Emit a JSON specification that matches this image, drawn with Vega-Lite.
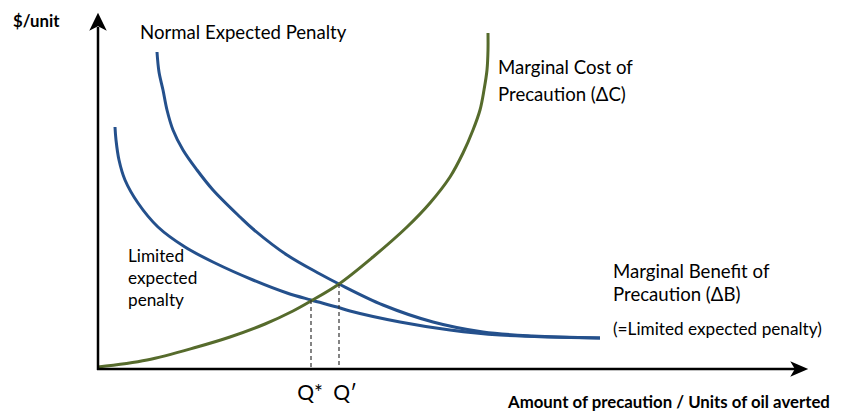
{
  "$schema": "https://vega.github.io/schema/vega-lite/v6.json",
  "width": 845,
  "height": 412,
  "autosize": {"type": "fit", "contains": "padding"},
  "padding": 0,
  "background": "white",
  "config": {"view": {"stroke": null}, "font": "Lato"},
  "datasets": {
    "axes": [
      {"axis": "y", "x": 0, "y": -1, "x2": 0, "y2": 342},
      {"axis": "x", "x": -1, "y": 0, "x2": 700, "y2": 0}
    ],
    "arrows": [
      {"dir": "up", "x": 0, "y": 347},
      {"dir": "right", "x": 701, "y": 0}
    ],
    "q": [
      {"label": "Q*", "x": 213, "y": 69},
      {"label": "Q′", "x": 241, "y": 85}
    ],
    "curves": [
      {"series": "Normal", "i": 0, "x": 59, "y": 317},
      {"series": "Normal", "i": 1, "x": 61, "y": 297},
      {"series": "Normal", "i": 2, "x": 65, "y": 279},
      {"series": "Normal", "i": 3, "x": 69, "y": 259},
      {"series": "Normal", "i": 4, "x": 75, "y": 239},
      {"series": "Normal", "i": 5, "x": 85, "y": 219},
      {"series": "Normal", "i": 6, "x": 99, "y": 199},
      {"series": "Normal", "i": 7, "x": 115, "y": 179},
      {"series": "Normal", "i": 8, "x": 142, "y": 152},
      {"series": "Normal", "i": 9, "x": 155, "y": 140},
      {"series": "Normal", "i": 10, "x": 189, "y": 114},
      {"series": "Normal", "i": 11, "x": 222, "y": 95},
      {"series": "Normal", "i": 12, "x": 241, "y": 85},
      {"series": "Normal", "i": 13, "x": 285, "y": 64},
      {"series": "Normal", "i": 14, "x": 335, "y": 47},
      {"series": "Normal", "i": 15, "x": 385, "y": 37},
      {"series": "Normal", "i": 16, "x": 435, "y": 33},
      {"series": "Normal", "i": 17, "x": 502, "y": 31},
      {"series": "Limited", "i": 0, "x": 17, "y": 242},
      {"series": "Limited", "i": 1, "x": 18, "y": 229},
      {"series": "Limited", "i": 2, "x": 21, "y": 209},
      {"series": "Limited", "i": 3, "x": 27, "y": 189},
      {"series": "Limited", "i": 4, "x": 40, "y": 166},
      {"series": "Limited", "i": 5, "x": 60, "y": 142},
      {"series": "Limited", "i": 6, "x": 87, "y": 122},
      {"series": "Limited", "i": 7, "x": 117, "y": 106},
      {"series": "Limited", "i": 8, "x": 155, "y": 89},
      {"series": "Limited", "i": 9, "x": 189, "y": 76},
      {"series": "Limited", "i": 10, "x": 213, "y": 69},
      {"series": "Limited", "i": 11, "x": 239, "y": 62},
      {"series": "Limited", "i": 12, "x": 252, "y": 58},
      {"series": "Limited", "i": 13, "x": 302, "y": 47},
      {"series": "Limited", "i": 14, "x": 352, "y": 39},
      {"series": "Limited", "i": 15, "x": 402, "y": 34},
      {"series": "Limited", "i": 16, "x": 502, "y": 31},
      {"series": "MC", "i": 0, "x": 0, "y": 2},
      {"series": "MC", "i": 1, "x": 49, "y": 9},
      {"series": "MC", "i": 2, "x": 99, "y": 22},
      {"series": "MC", "i": 3, "x": 132, "y": 32},
      {"series": "MC", "i": 4, "x": 167, "y": 45},
      {"series": "MC", "i": 5, "x": 195, "y": 58},
      {"series": "MC", "i": 6, "x": 213, "y": 68},
      {"series": "MC", "i": 7, "x": 241, "y": 85},
      {"series": "MC", "i": 8, "x": 275, "y": 112},
      {"series": "MC", "i": 9, "x": 309, "y": 142},
      {"series": "MC", "i": 10, "x": 332, "y": 166},
      {"series": "MC", "i": 11, "x": 352, "y": 192},
      {"series": "MC", "i": 12, "x": 365, "y": 216},
      {"series": "MC", "i": 13, "x": 375, "y": 239},
      {"series": "MC", "i": 14, "x": 382, "y": 259},
      {"series": "MC", "i": 15, "x": 386, "y": 279},
      {"series": "MC", "i": 16, "x": 389, "y": 299},
      {"series": "MC", "i": 17, "x": 390, "y": 319},
      {"series": "MC", "i": 18, "x": 390, "y": 336}
    ],
    "labels": [
      {"style": "bold", "text": "$/unit", "x": -85, "y": 347},
      {"style": "bold", "text": "Amount of precaution / Units of oil averted", "x": 410, "y": -34},
      {"style": "normal", "text": "Normal Expected Penalty", "x": 42, "y": 336},
      {"style": "normal", "text": "Marginal Cost of", "x": 400, "y": 301},
      {"style": "normal", "text": "Precaution (ΔC)", "x": 400, "y": 274},
      {"style": "normal", "text": "Marginal Benefit of", "x": 515, "y": 97},
      {"style": "normal", "text": "Precaution (ΔB)", "x": 515, "y": 74},
      {"style": "small", "text": "(=Limited expected penalty)", "x": 515, "y": 39},
      {"style": "small", "text": "Limited", "x": 30, "y": 112},
      {"style": "small", "text": "expected", "x": 30, "y": 90},
      {"style": "small", "text": "penalty", "x": 30, "y": 68},
      {"style": "q", "text": "Q*", "x": 212, "y": -31},
      {"style": "q", "text": "Q′", "x": 247, "y": -31}
    ]
  },
  "encoding": {
    "x": {"field": "x", "type": "quantitative", "scale": {"domain": [-98, 747], "nice": false, "zero": false}, "axis": null},
    "y": {"field": "y", "type": "quantitative", "scale": {"domain": [-43, 369], "nice": false, "zero": false}, "axis": null}
  },
  "layer": [
    {
      "data": {"name": "curves"},
      "mark": {"type": "line", "strokeWidth": 3, "interpolate": "catmull-rom", "strokeCap": "butt"},
      "encoding": {
        "color": {"field": "series", "type": "nominal", "scale": {"domain": ["Normal", "Limited", "MC"], "range": ["#24508C", "#24508C", "#566B2C"]}, "legend": null},
        "order": {"field": "i", "type": "quantitative"}
      }
    },
    {
      "data": {"name": "q"},
      "mark": {"type": "rule", "strokeDash": [4, 3], "strokeWidth": 1.2, "color": "#333333"},
      "encoding": {"y2": {"datum": 0}}
    },
    {
      "data": {"name": "axes"},
      "mark": {"type": "rule", "strokeWidth": 2.5, "color": "black"},
      "encoding": {"x2": {"field": "x2"}, "y2": {"field": "y2"}}
    },
    {
      "data": {"name": "arrows"},
      "transform": [{"filter": "datum.dir === 'up'"}],
      "mark": {"type": "point", "filled": true, "color": "black", "opacity": 1, "size": 340, "shape": "M0,-1L0.95,0.95L0,0.45L-0.95,0.95Z"}
    },
    {
      "data": {"name": "arrows"},
      "transform": [{"filter": "datum.dir === 'right'"}],
      "mark": {"type": "point", "filled": true, "color": "black", "opacity": 1, "size": 340, "shape": "M1,0L-0.95,0.85L-0.45,0L-0.95,-0.85Z"}
    },
    {
      "data": {"name": "labels"},
      "transform": [{"filter": "datum.style === 'bold'"}],
      "mark": {"type": "text", "align": "left", "baseline": "middle", "fontSize": 16.8, "fontWeight": "bold", "color": "black"},
      "encoding": {"text": {"field": "text"}}
    },
    {
      "data": {"name": "labels"},
      "transform": [{"filter": "datum.style === 'normal'"}],
      "mark": {"type": "text", "align": "left", "baseline": "middle", "fontSize": 18.6, "color": "black"},
      "encoding": {"text": {"field": "text"}}
    },
    {
      "data": {"name": "labels"},
      "transform": [{"filter": "datum.style === 'small'"}],
      "mark": {"type": "text", "align": "left", "baseline": "middle", "fontSize": 17.2, "color": "black"},
      "encoding": {"text": {"field": "text"}}
    },
    {
      "data": {"name": "labels"},
      "transform": [{"filter": "datum.style === 'q'"}],
      "mark": {"type": "text", "align": "center", "baseline": "alphabetic", "fontSize": 21, "color": "black"},
      "encoding": {"text": {"field": "text"}}
    }
  ]
}
